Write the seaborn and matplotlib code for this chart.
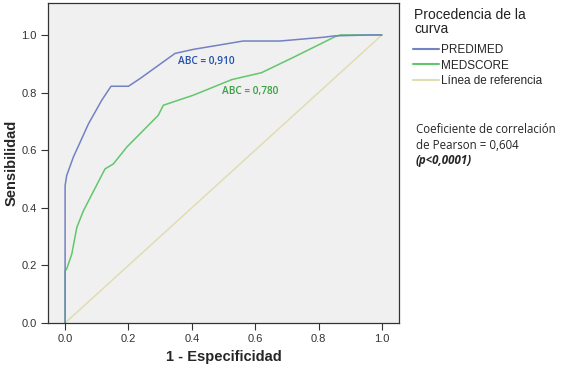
import seaborn as sns
import matplotlib.pyplot as plt
import pandas as pd
from matplotlib.lines import Line2D

sns.set_style("white")
plt.rcParams['font.family'] = ['Liberation Sans', 'DejaVu Sans']

# ROC curve points
predimed_x = [0.0, 0.0, 0.005, 0.026, 0.074, 0.116, 0.145, 0.2, 0.237, 0.347, 0.405, 0.562, 0.678, 0.815, 0.852, 0.962, 1.0]
predimed_y = [0.0, 0.477, 0.512, 0.576, 0.692, 0.774, 0.822, 0.822, 0.849, 0.936, 0.950, 0.979, 0.979, 0.992, 0.997, 1.0, 1.0]
medscore_x = [0.0, 0.0, 0.005, 0.021, 0.037, 0.058, 0.126, 0.152, 0.195, 0.294, 0.310, 0.405, 0.526, 0.620, 0.720, 0.852, 0.868, 1.0]
medscore_y = [0.0, 0.181, 0.188, 0.239, 0.332, 0.390, 0.535, 0.552, 0.611, 0.721, 0.756, 0.791, 0.845, 0.869, 0.922, 0.994, 1.0, 1.0]
ref_x = [0.0, 1.0]
ref_y = [0.0, 1.0]
curve_names = ['PREDIMED', 'MEDSCORE', 'Línea de referencia']
auc_labels = ['ABC = 0,910', 'ABC = 0,780']
ticks = [0.0, 0.2, 0.4, 0.6, 0.8, 1.0]

colors = {'PREDIMED': '#7282c2', 'MEDSCORE': '#62c66c', 'Línea de referencia': '#e2dcb4'}

df = pd.concat([
    pd.DataFrame({'x': predimed_x, 'y': predimed_y, 'curva': curve_names[0]}),
    pd.DataFrame({'x': medscore_x, 'y': medscore_y, 'curva': curve_names[1]}),
    pd.DataFrame({'x': ref_x, 'y': ref_y, 'curva': curve_names[2]}),
])

fig = plt.figure(figsize=(5.62, 3.66), dpi=100)
ax = fig.add_axes([48/562, 1 - 323/366, (399-48)/562, (323-3)/366])
ax.set_facecolor('#f0f0f0')

for name in curve_names[::-1]:
    sub = df[df['curva'] == name]
    sns.lineplot(data=sub, x='x', y='y', sort=False, estimator=None, color=colors[name],
                 linewidth=1.1, ax=ax, legend=False)

ax.text(0.356, 0.909, auc_labels[0], fontsize=7.3, color='#2150b0',
        family=['Open Sans', 'DejaVu Sans'], fontweight='semibold', va='center', ha='left')
ax.text(0.495, 0.805, auc_labels[1], fontsize=7.3, color='#3aa040',
        family=['Open Sans', 'DejaVu Sans'], fontweight='semibold', va='center', ha='left')

ax.set_xlim(-0.054, 1.054)
ax.set_ylim(0, 1.111)
ax.set_xticks(ticks)
ax.set_yticks(ticks)
ax.set_xticklabels([f'{t:.1f}' for t in ticks], fontsize=8, color='#333333')
ax.set_yticklabels([f'{t:.1f}' for t in ticks], fontsize=8, color='#333333')
ax.tick_params(direction='out', length=5, width=0.8, color='#333333', pad=3)
ax.tick_params(axis='x', bottom=True)
ax.tick_params(axis='y', left=True)
for s in ax.spines.values():
    s.set_color('#333333')
    s.set_linewidth(0.9)

ax.set_xlabel('1 - Especificidad', fontsize=10.5, fontweight='bold', labelpad=4)
ax.set_ylabel('Sensibilidad', fontsize=10.5, fontweight='bold', labelpad=2)

# legend title drawn on its own, then the entries below
fig.text(414/562, 1 - 22/366, 'Procedencia de la\ncurva', fontsize=10, va='center', ha='left',
         linespacing=1.05, color='#222222')
handles = [Line2D([], [], color=colors[n], linewidth=1.5) for n in curve_names]
leg = fig.legend(handles, curve_names, loc='upper left',
                 bbox_to_anchor=(413/562, 1 - 44/366), frameon=False, fontsize=8.5,
                 handlelength=2.2, handletextpad=0.2,
                 labelspacing=0.3, borderaxespad=0, borderpad=0)

fig.text(416/562, 1 - 137.5/366, 'Coeficiente de correlación\nde Pearson = 0,604',
         fontsize=8.3, family=['Open Sans', 'DejaVu Sans'], va='center', ha='left', linespacing=1.3)
fig.text(416/562, 1 - 160/366, '(p<0,0001)', fontsize=8.3, fontweight='bold', fontstyle='italic',
         family=['Open Sans', 'DejaVu Sans'], va='center', ha='left')

fig.savefig('out.png', dpi=100)
